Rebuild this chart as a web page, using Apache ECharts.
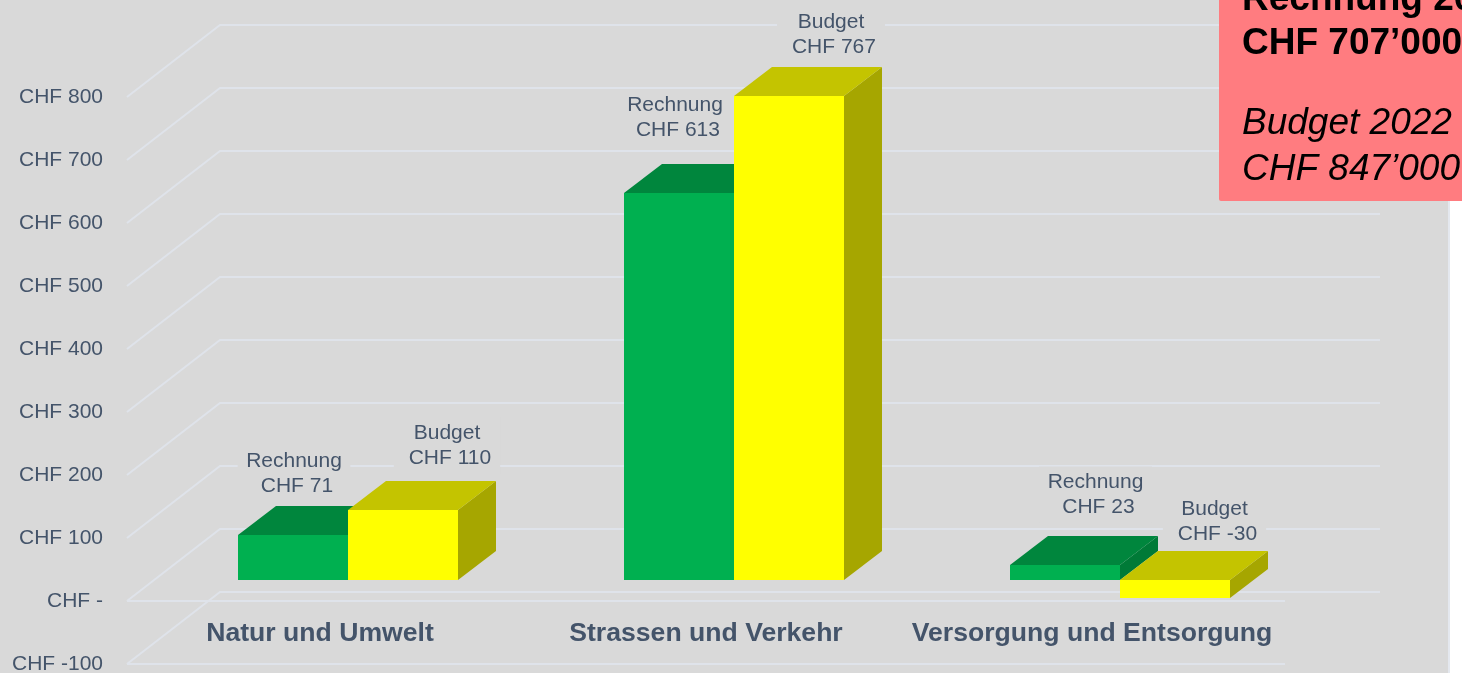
<!DOCTYPE html>
<html>
<head>
<meta charset="utf-8">
<style>
html, body { margin: 0; padding: 0; background: #fff; overflow: hidden; }
#chart { width: 1462px; height: 673px; }
</style>
<script src="https://cdn.jsdelivr.net/npm/echarts@6/dist/echarts.min.js"></script>
</head>
<body>
<div id="chart"></div>
<script>
// data
var categories = ['Natur und Umwelt', 'Strassen und Verkehr', 'Versorgung und Entsorgung'];
var rechnung = [71, 613, 23];
var budget = [110, 767, -30];
var yTicks = [-100, 0, 100, 200, 300, 400, 500, 600, 700, 800];

// hand placed label offsets, from the middle of the bar's front top edge
var rechnungLabelShift = [[1, -61], [-4, -75], [30.5, -70.5]];
var budgetLabelShift = [[44, -64.5], [42, -61], [39.5, -58]];

var FONT = '"Liberation Sans", Arial, sans-serif';
var TEXT_COLOR = '#44546a';
var GRID_COLOR = '#dfe3ea';

var barRatio = 0.2855;            // bar width / category width
var wall = { dx: 93, dy: 72 };    // floor depth of the fake 3d box
var plane = { dx: 28, dy: 21 };   // bars stand this far back from the front edge
var depth = { dx: 38, dy: 29 };   // depth of a bar

var chart = echarts.init(document.getElementById('chart'));

function renderGrid(params, api) {
    var tick = api.value(0);
    var y = api.coord([0, tick])[1];
    var left = params.coordSys.x;
    var right = left + params.coordSys.width;
    var style = { stroke: GRID_COLOR, lineWidth: 2, fill: null };
    var children = [{
        type: 'polyline',
        shape: { points: [[left, y], [left + wall.dx, y - wall.dy], [right + wall.dx + 2, y - wall.dy]] },
        style: style
    }];
    // floor lines in front only
    if (tick <= 0) {
        children.push({
            type: 'line',
            shape: { x1: left, y1: y, x2: right, y2: y },
            style: style
        });
    }
    return { type: 'group', children: children };
}

function barRenderer(slot, colors, name, shifts, padX) {
    return function (params, api) {
        var cat = api.value(0);
        var val = api.value(1);
        var base = api.coord([cat, 0]);
        var top = api.coord([cat, val]);
        var w = api.size([1, 0])[0] * barRatio;
        // whole pixels, otherwise the bar behind shows through the seams
        var x0 = Math.round(base[0] + plane.dx + slot * w);
        var x1 = Math.round(base[0] + plane.dx + (slot + 1) * w);
        var yBase = Math.floor(base[1] - plane.dy);
        var yVal = Math.floor(top[1] - plane.dy);
        var yTop = Math.min(yBase, yVal);
        var yBottom = Math.max(yBase, yVal);
        var shift = shifts[params.dataIndex];
        return {
            type: 'group',
            children: [{
                type: 'polygon',
                shape: { points: [[x1, yTop], [x1 + depth.dx, yTop - depth.dy], [x1 + depth.dx, yBottom - depth.dy], [x1, yBottom]] },
                style: { fill: colors.side }
            }, {
                type: 'polygon',
                shape: { points: [[x0, yTop], [x0 + depth.dx, yTop - depth.dy], [x1 + depth.dx, yTop - depth.dy], [x1, yTop]] },
                style: { fill: colors.top }
            }, {
                type: 'rect',
                shape: { x: x0, y: yTop, width: x1 - x0, height: yBottom - yTop },
                style: { fill: colors.front }
            }, {
                type: 'text',
                x: (x0 + x1) / 2 + shift[0],
                y: yTop + shift[1],
                style: {
                    // the second line starts with a space in the original too
                    text: name + '\n CHF ' + val,
                    font: '21px ' + FONT,
                    fill: TEXT_COLOR,
                    align: 'center',
                    verticalAlign: 'middle',
                    lineHeight: 25,
                    backgroundColor: '#d9d9d9',
                    padding: [3, padX]
                }
            }]
        };
    };
}

function toPairs(values) {
    return values.map(function (v, i) { return [i, v]; });
}

var option = {
    animation: false,
    backgroundColor: '#ffffff',
    grid: { left: 127, width: 1158, top: 97, height: 567, outerBoundsMode: 'none' },
    xAxis: {
        type: 'category',
        data: categories,
        offset: -44,
        axisLine: { show: false },
        axisTick: { show: false },
        axisLabel: {
            interval: 0,
            margin: 0,
            color: TEXT_COLOR,
            fontFamily: FONT,
            fontWeight: 'bold',
            fontSize: 26.6
        }
    },
    yAxis: {
        type: 'value',
        min: -100,
        max: 800,
        interval: 100,
        axisLine: { show: false },
        axisTick: { show: false },
        splitLine: { show: false },
        axisLabel: {
            margin: 24,
            color: TEXT_COLOR,
            fontFamily: FONT,
            fontSize: 21,
            formatter: function (v) {
                return v === 0 ? 'CHF -' : 'CHF ' + v;
            }
        }
    },
    graphic: [
        { type: 'rect', z: 0, shape: { x: 0, y: 0, width: 1448, height: 673 }, style: { fill: '#d9d9d9' } },
        { type: 'rect', z: 0, shape: { x: 1448, y: 0, width: 2, height: 673 }, style: { fill: '#e4e8ef' } },
        { type: 'rect', z: 10, shape: { x: 1219, y: -10, width: 260, height: 211, r: 2 }, style: { fill: '#ff7c80' } },
        { type: 'text', z: 11, x: 1242, y: 0, style: { text: 'Rechnung 2022', font: 'bold 37px ' + FONT, fill: '#000', verticalAlign: 'middle' } },
        { type: 'text', z: 11, x: 1242, y: 44, style: { text: 'CHF 707’000', font: 'bold 37px ' + FONT, fill: '#000', verticalAlign: 'middle' } },
        { type: 'text', z: 11, x: 1242, y: 124, style: { text: 'Budget 2022', font: 'italic 37px ' + FONT, fill: '#000', verticalAlign: 'middle' } },
        { type: 'text', z: 11, x: 1242, y: 170, style: { text: 'CHF 847’000', font: 'italic 37px ' + FONT, fill: '#000', verticalAlign: 'middle' } }
    ],
    series: [
        {
            name: 'grid',
            type: 'custom',
            z: 1,
            silent: true,
            renderItem: renderGrid,
            encode: { y: 0 },
            data: yTicks.map(function (t) { return [t]; })
        },
        {
            name: 'Rechnung',
            type: 'custom',
            z: 2,
            renderItem: barRenderer(-1, { front: '#00b050', top: '#00863d', side: '#007a37' }, 'Rechnung', rechnungLabelShift, 8.5),
            encode: { x: 0, y: 1 },
            data: toPairs(rechnung)
        },
        {
            name: 'Budget',
            type: 'custom',
            z: 3,
            renderItem: barRenderer(0, { front: '#ffff00', top: '#c4c400', side: '#a6a600' }, 'Budget', budgetLabelShift, 9),
            encode: { x: 0, y: 1 },
            data: toPairs(budget)
        }
    ]
};

chart.setOption(option);
</script>
</body>
</html>
